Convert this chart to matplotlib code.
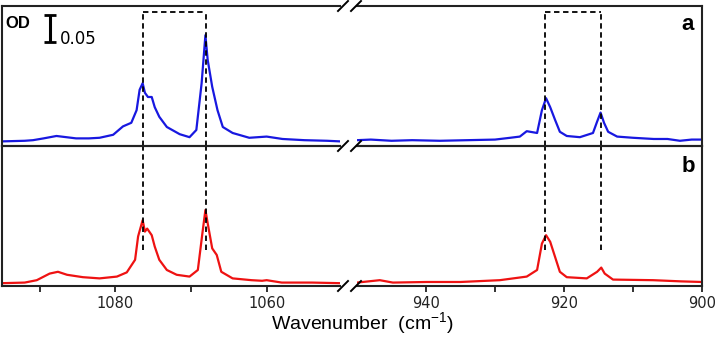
import numpy as np
import matplotlib.pyplot as plt
from matplotlib.lines import Line2D

plt.rcParams['font.family'] = ['Liberation Sans', 'DejaVu Sans']
plt.rcParams['mathtext.fontset'] = 'custom'
plt.rcParams['mathtext.rm'] = 'Liberation Sans'

# spectrum a (top, blue), high-wavenumber region
a_hi_wn = [1095, 1092, 1090.9, 1089.5, 1087.8, 1086.5, 1085.2, 1083.5, 1082.1, 1080.3, 1079.0,
           1077.9, 1077.2, 1076.8, 1076.4, 1076.1, 1075.7, 1075.2, 1074.8, 1074.2, 1073.2,
           1071.5, 1070.2, 1069.3, 1068.6, 1068.1, 1067.8, 1067.2, 1066.5, 1065.8, 1064.5,
           1062.3, 1060.0, 1057.9, 1055, 1052, 1050.3]
a_hi_od = [0.001, 0.002, 0.003, 0.006, 0.010, 0.008, 0.006, 0.006, 0.007, 0.012, 0.026,
           0.032, 0.053, 0.087, 0.098, 0.082, 0.075, 0.075, 0.058, 0.042, 0.025,
           0.013, 0.008, 0.020, 0.098, 0.178, 0.137, 0.092, 0.053, 0.025, 0.015,
           0.007, 0.009, 0.005, 0.003, 0.002, 0.001]

# spectrum a, low-wavenumber region
a_lo_wn = [950, 948, 945, 942, 938, 934, 930, 927.8, 926.4, 925.4, 923.9, 923.2, 922.6,
           922.0, 921.3, 920.6, 919.6, 917.7, 915.8, 915.2, 914.7, 914.2, 913.6, 912.3,
           910, 907, 905, 903.2, 901.5, 900]
a_lo_od = [0.003, 0.004, 0.002, 0.003, 0.002, 0.003, 0.004, 0.007, 0.009, 0.018, 0.015,
           0.053, 0.073, 0.058, 0.037, 0.017, 0.010, 0.008, 0.015, 0.034, 0.049, 0.032,
           0.017, 0.009, 0.007, 0.005, 0.005, 0.002, 0.004, 0.004]

# spectrum b (bottom, red), high-wavenumber region
b_hi_wn = [1095, 1092, 1090.4, 1088.7, 1087.6, 1086.4, 1084.3, 1082.1, 1079.8, 1078.5,
           1077.4, 1077.0, 1076.4, 1076.1, 1075.8, 1075.2, 1074.8, 1074.2, 1073.2, 1071.9,
           1070.2, 1069.1, 1068.5, 1068.1, 1067.8, 1067.2, 1066.6, 1066.0, 1064.5, 1062,
           1060.6, 1060.0, 1058, 1054, 1050.3]
b_hi_od = [-0.002, -0.001, 0.003, 0.014, 0.017, 0.012, 0.008, 0.006, 0.009, 0.016,
           0.037, 0.076, 0.103, 0.084, 0.089, 0.078, 0.059, 0.037, 0.020, 0.012,
           0.009, 0.020, 0.081, 0.120, 0.098, 0.056, 0.045, 0.017, 0.006, 0.003,
           0.002, 0.003, -0.001, -0.001, -0.002]

# spectrum b, low-wavenumber region
b_lo_wn = [950, 946.7, 944.8, 939.9, 935, 929.3, 925.4, 923.9, 923.2, 922.6, 922.0, 921.3,
           920.6, 919.6, 916.7, 915.2, 914.6, 914.1, 912.9, 907.1, 903, 900]
b_lo_od = [-0.001, 0.003, -0.001, 0.0, 0.0, 0.003, 0.009, 0.020, 0.064, 0.078, 0.067, 0.042,
           0.017, 0.008, 0.006, 0.017, 0.024, 0.014, 0.004, 0.003, 0.001, 0.0]

# marked band positions (dashed boxes)
bands_hi = [1076.3, 1068.0]
bands_lo = [922.7, 914.7]

W, H = 723, 337
fig = plt.figure(figsize=(W / 100, H / 100), dpi=100)

def px_axes(x0, x1, ytop, ybot):
    return fig.add_axes([x0 / W, 1 - ybot / H, (x1 - x0) / W, (ybot - ytop) / H])

ylim = (-0.0067, 0.2267)
box_top = 0.2167
dash_bottom = 0.053
blue = '#1818e0'
red = '#ee1212'

axes = {}
for row, (ytop, ybot) in enumerate([(6, 146), (146, 286)]):
    axl = px_axes(2, 340, ytop, ybot)
    axr = px_axes(357, 702, ytop, ybot)
    axl.set_xlim(1095, 1050.3)
    axr.set_xlim(950, 900)
    for ax in (axl, axr):
        ax.set_ylim(*ylim)
        ax.set_yticks([])
        ax.patch.set_alpha(0)
        for s in ax.spines.values():
            s.set_linewidth(1.5)
            s.set_color('#222222')
    axl.spines['right'].set_visible(False)
    axr.spines['left'].set_visible(False)
    axes[row] = (axl, axr)

# top panel
axl, axr = axes[0]
axl.plot(a_hi_wn, a_hi_od, color=blue, lw=1.6)
axr.plot(a_lo_wn, a_lo_od, color=blue, lw=1.6)
for ax in (axl, axr):
    ax.set_xticks([])
for ax, bands in ((axl, bands_hi), (axr, bands_lo)):
    for b in bands:
        ax.plot([b, b], [ylim[0], box_top], color='k', ls=(0, (3, 2)), lw=1.3, clip_on=False)
    ax.plot(bands, [box_top, box_top], color='k', ls=(0, (3, 2)), lw=1.3)

# scale bar
axl.errorbar([1088.6], [0.190], yerr=[0.0225], color='k', capsize=4, elinewidth=2.2,
             capthick=2, fmt='none')
axl.text(0.009, 0.876, 'OD', transform=axl.transAxes, fontsize=12, fontweight='bold',
         va='center', ha='left')
axl.text(0.172, 0.762, '0.05', transform=axl.transAxes, fontsize=12,
         family='DejaVu Sans', va='center', ha='left')
axr.text(0.957, 0.871, 'a', transform=axr.transAxes, fontsize=16, fontweight='bold',
         va='center', ha='center')

# bottom panel
axl, axr = axes[1]
axl.plot(b_hi_wn, b_hi_od, color=red, lw=1.6)
axr.plot(b_lo_wn, b_lo_od, color=red, lw=1.6)
for ax, bands in ((axl, bands_hi), (axr, bands_lo)):
    for b in bands:
        ax.plot([b, b], [dash_bottom, ylim[1]], color='k', ls=(0, (3, 2)), lw=1.3)
axl.set_xticks([1080, 1060])
axl.set_xticks([1090, 1070], minor=True)
axr.set_xticks([940, 920, 900])
axr.set_xticks([930, 910], minor=True)
for ax in (axl, axr):
    ax.tick_params(axis='x', which='both', direction='out', length=4, width=1.3,
                   labelsize=10.5, pad=3, colors='#222222')
    for lbl in ax.get_xticklabels():
        lbl.set_family('DejaVu Sans')
axr.text(0.959, 0.857, 'b', transform=axr.transAxes, fontsize=16, fontweight='bold',
         va='center', ha='center')

fig.text(362 / W, 1 - 324 / H, 'Wavenumber  (cm$^{-1}$)', fontsize=14,
         ha='center', va='center')

# axis break marks
for yb in (6, 146, 286):
    for xb in (343, 356):
        fig.add_artist(Line2D([(xb - 5) / W, (xb + 5) / W],
                              [1 - (yb + 5) / H, 1 - (yb - 5) / H],
                              color='k', lw=1.4, transform=fig.transFigure))

fig.savefig('out.png', dpi=100)
